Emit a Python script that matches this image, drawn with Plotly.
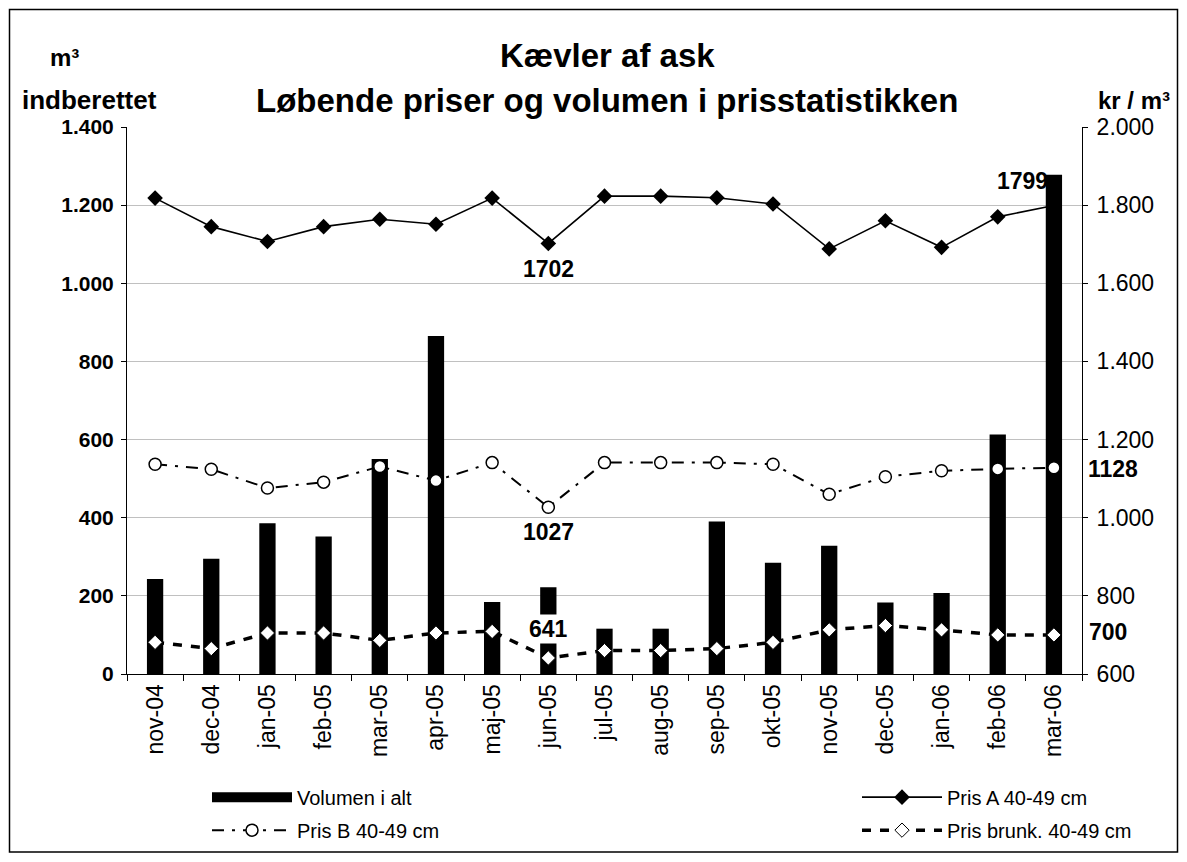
import plotly.graph_objects as go

categories = ["nov-04", "dec-04", "jan-05", "feb-05", "mar-05", "apr-05", "maj-05", "jun-05",
              "jul-05", "aug-05", "sep-05", "okt-05", "nov-05", "dec-05", "jan-06", "feb-06", "mar-06"]
volumen = [243, 295, 386, 352, 550, 865, 184, 222, 116, 116, 390, 285, 328, 183, 207, 613, 1278]
pris_a = [1818, 1745, 1707, 1745, 1764, 1751, 1818, 1702, 1823, 1823, 1819, 1803, 1688, 1760, 1692, 1770, 1799]
pris_b = [1137, 1124, 1076, 1091, 1131, 1095, 1141, 1027, 1141, 1141, 1141, 1137, 1060, 1105, 1120, 1125, 1128]
pris_brunk = [681, 665, 705, 705, 686, 705, 709, 641, 660, 660, 665, 681, 713, 724, 713, 700, 700]

FONT = "Liberation Sans, Arial, sans-serif"

# plot area in page pixels: x 127..1082, y 127..674.3 (page has 8px body margin)
PL, PR, PT, PB = 127, 1082, 127, 674.3
PW, PH = PR - PL, PB - PT


def px(xp):
    return (xp - PL) / PW


def py(yp):
    return (PB - yp) / PH


fig = go.Figure()

fig.add_trace(go.Bar(x=categories, y=volumen, name="Volumen i alt", marker=dict(color="black", line=dict(width=0)),
                     showlegend=False, yaxis="y"))
# legend-only entry giving the wide block symbol of the bar series
fig.add_trace(go.Scatter(x=[categories[0]], y=[None], mode="lines", name="Volumen i alt",
                         line=dict(color="black", width=15), legend="legend", legendgroup="g1",
                         hoverinfo="skip"))

fig.add_trace(go.Scatter(x=categories, y=pris_a, name="Pris A 40-49 cm", mode="lines+markers", yaxis="y2",
                         line=dict(color="black", width=1.6),
                         marker=dict(symbol="diamond", size=12, color="black"),
                         legend="legend2", legendgroup="g3"))
fig.add_trace(go.Scatter(x=categories, y=pris_b, name="Pris B 40-49 cm", mode="lines+markers", yaxis="y2",
                         line=dict(color="black", width=2, dash="12px,8px,3px,8px"),
                         marker=dict(symbol="circle", size=12, color="white", line=dict(color="black", width=1.5)),
                         legend="legend", legendgroup="g2"))
fig.add_trace(go.Scatter(x=categories, y=pris_brunk, name="Pris brunk. 40-49 cm", mode="lines+markers", yaxis="y2",
                         line=dict(color="black", width=3.5, dash="9px,9px"),
                         marker=dict(symbol="diamond", size=11, color="white", line=dict(color="black", width=1)),
                         legend="legend2", legendgroup="g4"))

lab_font = dict(family=FONT, size=23, color="black", weight="bold")
ann = []
i_jun = categories.index("jun-05")
i_last = len(categories) - 1
ann.append(dict(x=categories[i_jun], y=pris_a[i_jun], xref="x", yref="y2", text=str(pris_a[i_jun]),
                showarrow=False, yshift=-26, font=lab_font))
ann.append(dict(x=categories[i_last], y=pris_a[i_last], xref="x", yref="y2", text=str(pris_a[i_last]),
                showarrow=False, yshift=25, xshift=-31, font=lab_font))
ann.append(dict(x=categories[i_jun], y=pris_b[i_jun], xref="x", yref="y2", text=str(pris_b[i_jun]),
                showarrow=False, yshift=-25, font=lab_font))
ann.append(dict(x=categories[i_jun], y=pris_brunk[i_jun], xref="x", yref="y2", text=str(pris_brunk[i_jun]),
                showarrow=False, yshift=29, font=lab_font, bgcolor="white"))
ann.append(dict(x=categories[i_last], y=pris_b[i_last], xref="x", yref="y2", text=str(pris_b[i_last]),
                showarrow=False, xshift=59, yshift=-1, font=lab_font))
ann.append(dict(x=categories[i_last], y=pris_brunk[i_last], xref="x", yref="y2", text=str(pris_brunk[i_last]),
                showarrow=False, xshift=54, yshift=3, font=lab_font))

title_font = dict(family=FONT, size=33, color="black", weight="bold")
ann.append(dict(x=px(607), y=py(55), xref="paper", yref="paper", text="Kævler af ask", showarrow=False,
                font=title_font, xanchor="center", yanchor="middle"))
ann.append(dict(x=px(607), y=py(100), xref="paper", yref="paper", text="Løbende priser og volumen i prisstatistikken",
                showarrow=False, font=title_font, xanchor="center", yanchor="middle"))
ax_font = dict(family=FONT, size=24, color="black", weight="bold")
ann.append(dict(x=px(64), y=py(57), xref="paper", yref="paper", text="m³",
                showarrow=False, font=ax_font, xanchor="center", yanchor="middle"))
ann.append(dict(x=px(89), y=py(100), xref="paper", yref="paper", text="indberettet",
                showarrow=False, font=dict(family=FONT, size=26, color="black", weight="bold"),
                xanchor="center", yanchor="middle"))
ann.append(dict(x=px(1134), y=py(100), xref="paper", yref="paper", text="kr / m³",
                showarrow=False, font=ax_font, xanchor="center", yanchor="middle"))

# figure starts 8px into the page (body margin); bottom margin must hold the legends
W, H = 1179, 862
fig.update_layout(
    width=W, height=H,
    margin=dict(l=PL - 8, r=W - (PR - 8), t=PT - 8, b=H - (PB - 8)),
    paper_bgcolor="white", plot_bgcolor="white",
    separators=",.",
    bargap=0.71,
    font=dict(family=FONT, color="black"),
    annotations=ann,
    xaxis=dict(type="category", categoryorder="array", categoryarray=categories,
               range=[-0.5, len(categories) - 0.5], autorange=False,
               showline=True, linecolor="black", linewidth=1, ticks="outside",
               tickson="boundaries", ticklen=6, tickcolor="black", tickangle=-90,
               tickfont=dict(family=FONT, size=23, color="black"), showgrid=False),
    yaxis=dict(range=[0, 1400], dtick=200, tickformat=",d", showline=True, linecolor="black", linewidth=1,
               ticks="outside", ticklen=5, tickcolor="black", showgrid=True, gridcolor="#c0c0c0", gridwidth=1,
               ticklabelstandoff=3,
               tickfont=dict(family=FONT, size=21, color="black", weight="bold"), zeroline=False),
    yaxis2=dict(range=[600, 2000], dtick=200, tickformat=",d", overlaying="y", side="right", showline=True,
                linecolor="black", linewidth=1, ticks="outside", ticklen=5, tickcolor="black", showgrid=False,
                ticklabelstandoff=4,
                tickfont=dict(family=FONT, size=23, color="black"), zeroline=False),
    legend=dict(x=px(207), y=py(778), xanchor="left", yanchor="top",
                orientation="v", itemwidth=80, traceorder="grouped", tracegroupgap=4,
                font=dict(family=FONT, size=20, color="black"), bgcolor="rgba(0,0,0,0)"),
    legend2=dict(x=px(857), y=py(778), xanchor="left", yanchor="top",
                 orientation="v", itemwidth=80, traceorder="grouped", tracegroupgap=4,
                 font=dict(family=FONT, size=20, color="black"), bgcolor="rgba(0,0,0,0)"),
    shapes=[dict(type="rect", xref="paper", yref="paper",
                 x0=px(9.5), x1=px(1177.5),
                 y0=py(852.5), y1=py(9.5),
                 line=dict(color="black", width=1.5), fillcolor="rgba(0,0,0,0)", layer="below")],
)

fig.write_html("out.html")
